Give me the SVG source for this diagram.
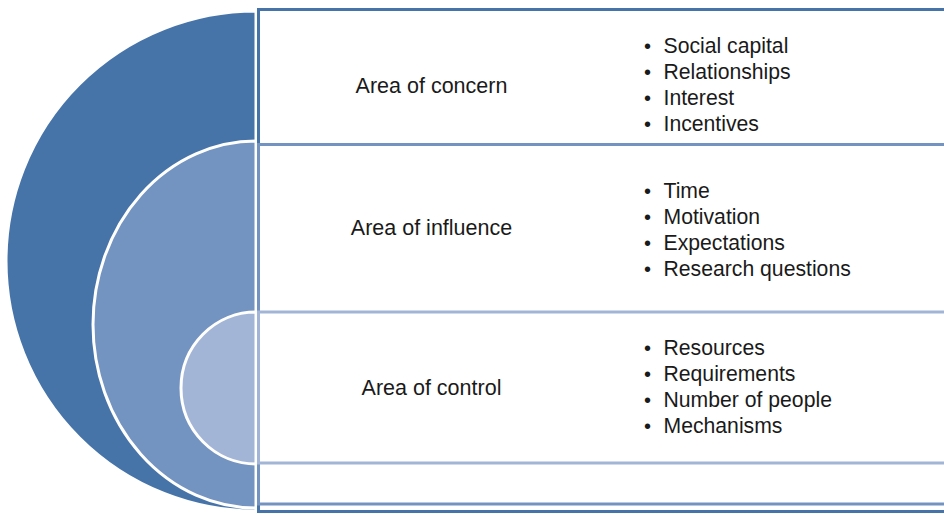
<svg xmlns="http://www.w3.org/2000/svg" width="944" height="514" viewBox="0 0 944 514">
<style>
.lbl{font-family:"Liberation Sans",Arial,sans-serif;font-size:21.5px;fill:#1a1a1a;text-anchor:middle}
.itm{font-family:"Liberation Sans",Arial,sans-serif;font-size:21.2px;fill:#1a1a1a}
.bul{font-family:"Liberation Sans",Arial,sans-serif;font-size:20px;fill:#1a1a1a;text-anchor:middle}
.disk{stroke:#ffffff;stroke-width:3}
.box{fill:#ffffff;stroke-width:3}
</style>
<rect width="944" height="514" fill="#ffffff"/>
<g id="shapes">
  <path class="disk" d="M256,11 A250,250 0 0 0 256,511 Z" fill="#4674A9" stroke="none"/>
  <path class="disk" d="M256,141 A163,183.5 0 0 0 256,508 Z" fill="#7393C0"/>
  <path class="disk" d="M256,312 A75,76 0 0 0 256,464 Z" fill="#A3B5D6"/>
</g>
<g id="concern">
  <rect class="box" x="258.5" y="9.5" width="700" height="502" stroke="#4674A9"/>
  <text class="lbl" x="431.5" y="93">Area of concern</text>
</g>
<g id="influence">
  <rect class="box" x="258.5" y="144.5" width="700" height="359.5" stroke="#7393C0"/>
  <text class="lbl" x="431.5" y="235">Area of influence</text>
</g>
<g id="control">
  <rect class="box" x="258.5" y="312" width="700" height="151" stroke="#A3B5D6"/>
  <text class="lbl" x="431.5" y="395">Area of control</text>
</g>
<g id="concern-items">
  <text class="bul" x="647.5" y="53">•</text><text class="itm" x="663.5" y="53">Social capital</text>
  <text class="bul" x="647.5" y="79">•</text><text class="itm" x="663.5" y="79">Relationships</text>
  <text class="bul" x="647.5" y="105">•</text><text class="itm" x="663.5" y="105">Interest</text>
  <text class="bul" x="647.5" y="131">•</text><text class="itm" x="663.5" y="131">Incentives</text>
</g>
<g id="influence-items">
  <text class="bul" x="647.5" y="198">•</text><text class="itm" x="663.5" y="198">Time</text>
  <text class="bul" x="647.5" y="224">•</text><text class="itm" x="663.5" y="224">Motivation</text>
  <text class="bul" x="647.5" y="250">•</text><text class="itm" x="663.5" y="250">Expectations</text>
  <text class="bul" x="647.5" y="276">•</text><text class="itm" x="663.5" y="276">Research questions</text>
</g>
<g id="control-items">
  <text class="bul" x="647.5" y="354.5">•</text><text class="itm" x="663.5" y="354.5">Resources</text>
  <text class="bul" x="647.5" y="380.5">•</text><text class="itm" x="663.5" y="380.5">Requirements</text>
  <text class="bul" x="647.5" y="406.5">•</text><text class="itm" x="663.5" y="406.5">Number of people</text>
  <text class="bul" x="647.5" y="432.5">•</text><text class="itm" x="663.5" y="432.5">Mechanisms</text>
</g>
<g id="connectors"></g>
</svg>
